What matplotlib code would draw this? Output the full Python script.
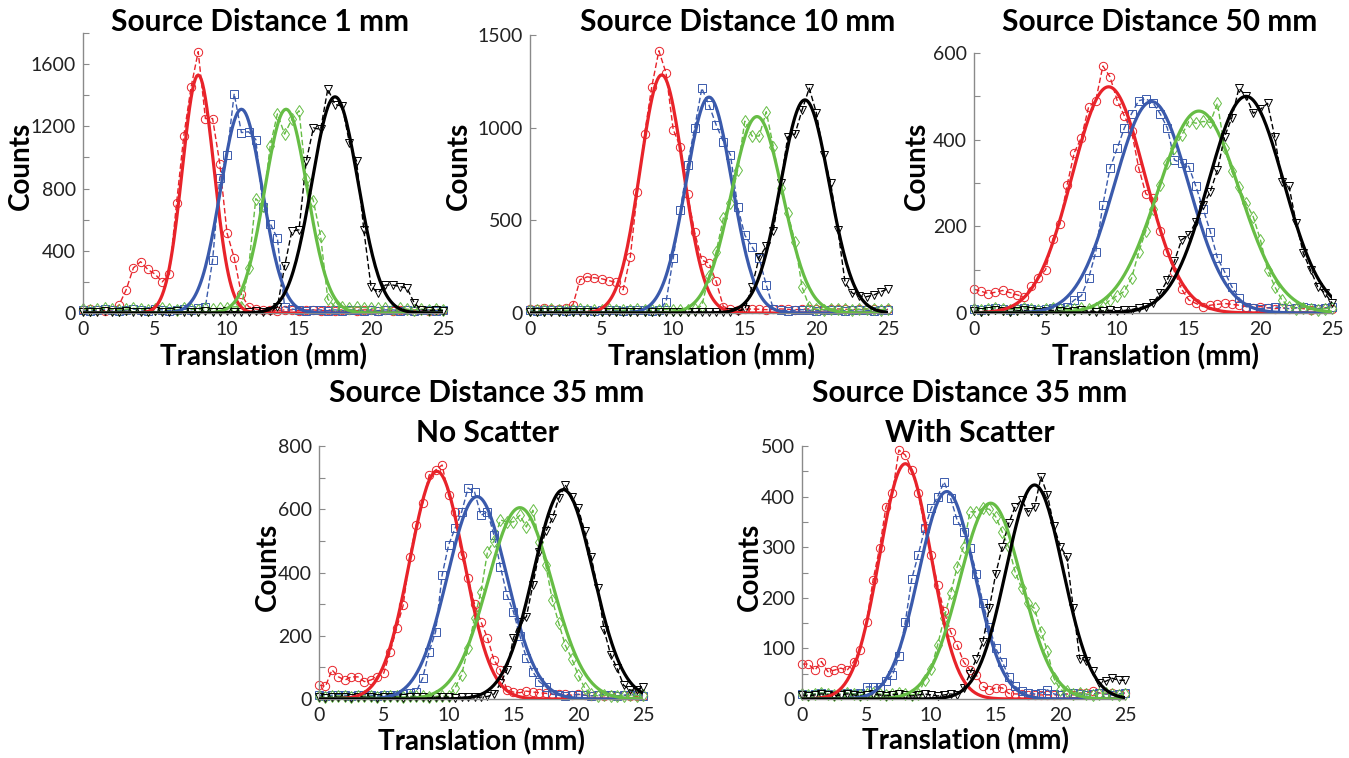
import numpy as np
import matplotlib.pyplot as plt

plt.rcParams['font.family'] = ['Lato', 'DejaVu Sans']

# translation grid of the measured points (mm)
translation = np.arange(0, 25.5, 0.5)

# Source distance 1 mm
p1_red = [20, 25, 20, 15, 20, 50, 150, 290, 330, 280, 250, 200, 250, 710, 1140, 1450, 1680, 1250, 1250, 960, 515, 355, 120, 40, 25, 20,
          20, 15, 20, 20, 15, 20, 20, 15, 20, 15, 20, 20, 15, 20, 20, 15, 20, 15, 20, 20, 15, 20, 15, 20, 20]
p1_blue = [20, 15, 20, 25, 20, 15, 20, 25, 20, 15, 25, 20, 15, 20, 25, 20,
           30, 40, 340, 870, 1015, 1410, 1160, 1165, 1115, 680, 575, 480, 40, 25,
           20, 15, 20, 20, 15, 20, 15, 20, 20, 15, 20, 15, 20, 20, 15, 20, 15, 20, 20, 15, 20]
p1_green = [25, 20, 25, 30, 25, 20, 25, 30, 25, 20, 25, 30, 25, 20, 30, 25, 20, 30, 25, 30, 35, 40,
            40, 290, 735, 690, 1075, 1280, 1150, 1245, 1300, 860, 720, 495, 90, 40,
            40, 35, 40, 35, 30, 35, 30, 25, 30, 25, 20, 25, 20, 25, 20]
p1_black = [8, 5, 8, 10, 5, 8, 10, 8, 5, 8, 10, 5, 8, 10, 8, 5, 8, 10, 8, 5, 10, 8, 5, 8, 10, 8, 10,
            40, 300, 525, 535, 975, 1190, 1180, 1440, 1340, 1330, 1095, 975, 535, 170, 130, 180, 180, 170, 160, 65,
            20, 15, 20, 15]

# Source distance 10 mm
p2_red = [20, 20, 25, 20, 20, 25, 45, 180, 195, 190, 185, 175, 165, 125, 300, 655, 965, 1220, 1415, 1295, 990, 895, 640, 435,
          285, 270, 170, 35,
          20, 18, 20, 22, 20, 18, 20, 22, 20, 18, 20, 22, 20, 18, 20, 22, 20, 18, 20, 22, 20, 18, 20]
p2_blue = [15, 12, 15, 18, 15, 12, 15, 18, 15, 12, 15, 18, 15, 12, 15, 18, 15, 12, 15,
           60, 295, 556, 800, 1000, 1213, 1122, 1015, 925, 853, 574, 420, 358, 295, 151, 20,
           15, 12, 15, 18, 15, 12, 15, 18, 15, 12, 15, 18, 15, 12, 15, 18]
p2_green = [18, 15, 18, 20, 18, 15, 18, 20, 18, 15, 18, 20, 18, 15, 18, 20, 18, 15, 18, 20, 18, 15, 18, 20,
            40, 200, 330, 512, 593, 772, 1035, 955, 955, 1086, 895, 675, 540, 385, 140, 34,
            20, 18, 20, 22, 20, 18, 20, 22, 20, 18, 20]
p2_black = [5, 3, 5, 8, 5, 3, 5, 8, 5, 3, 5, 8, 5, 3, 5, 8, 5, 3, 5, 8, 5, 3, 5, 8, 5, 3, 5, 8, 5,
            10, 20, 140, 300, 360, 445, 700, 950, 965, 1095, 1213, 1079, 853, 700, 450, 165, 108, 90, 88, 97, 115, 130]

# Source distance 50 mm
p3_red = [55, 50, 45, 48, 52, 47, 42, 37, 62, 80, 100, 170, 205, 295, 370, 405, 475, 490, 570, 545, 490, 455, 420, 335,
          275, 265, 190, 140, 95, 55, 30, 22, 15, 18, 20, 22, 20, 18, 15, 12, 15, 12, 10, 12, 10, 12, 10, 8, 10, 12, 10]
p3_blue = [10, 8, 10, 12, 10, 8, 10, 12, 10, 8, 10, 12, 12,
           15, 30, 40, 80, 140, 250, 335, 380, 427, 460, 490, 494, 485, 460, 427, 353, 346, 338, 292, 240, 188, 127,
           95, 61, 35, 15,
           12, 10, 12, 14, 12, 10, 12, 14, 12, 10, 12, 14]
p3_green = [10, 8, 10, 12, 10, 8, 10, 12, 10, 8, 10, 12, 10, 8, 10, 12, 10, 12,
            15, 30, 40, 50, 80, 140, 190, 240, 295, 346, 381, 410, 442, 438, 442, 440, 484, 380, 327, 290, 254, 222,
            169, 100, 61, 30, 15,
            10, 12, 10, 8, 10, 12]
p3_black = [5, 3, 5, 6, 5, 3, 5, 6, 5, 3, 5, 6, 5, 3, 5, 6, 5, 3, 5, 6, 5, 6,
            8, 12, 15, 23, 46, 76, 120, 169, 180, 211, 249, 280, 330, 407, 450, 519, 500, 461, 470, 484, 407, 303, 292,
            207, 138, 99, 61, 46, 23]

# Source distance 35 mm, no scatter
p4_red = [44, 40, 92, 70, 60, 70, 70, 55, 60, 70, 82, 150, 225, 297, 450, 550, 619, 708, 724, 740, 645, 592, 455, 383,
          300, 244, 193, 123, 92, 28,
          22, 20, 25, 22, 20, 18, 15, 15, 15, 12, 15, 12, 10, 12, 10, 12, 10, 12, 10, 8, 10]
p4_blue = [12, 10, 12, 14, 12, 10, 12, 14, 12, 10, 12, 14, 12,
           15, 19, 23, 66, 150, 213, 392, 487, 540, 590, 667, 655, 581, 592, 518, 418, 329, 276, 200, 130, 86, 55, 39, 15,
           12, 10, 12, 14, 12, 10, 12, 14, 12, 10, 12, 14, 12, 10]
p4_green = [8, 6, 8, 10, 8, 6, 8, 10, 8, 6, 8, 10, 8, 6, 8, 10, 8, 6, 8, 10, 8,
            35, 76, 161, 256, 339, 465, 500, 566, 560, 560, 581, 544, 597, 497, 423, 313, 240, 170, 128, 76, 35, 15,
            10, 12, 10, 8, 10, 12, 10, 12]
p4_black = [5, 3, 5, 6, 5, 3, 5, 6, 5, 3, 5, 6, 5, 3, 5, 6, 5, 3, 5, 6, 5, 3, 5, 6, 5, 6,
            8, 15, 50, 92, 192, 244, 260, 360, 465, 530, 571, 634, 677, 640, 603, 530, 450, 350, 218, 140, 97, 44,
            28, 28, 39]

# Source distance 35 mm, with scatter
p5_red = [69, 69, 57, 74, 54, 57, 61, 57, 74, 97, 153, 235, 298, 380, 407, 492, 482, 453, 407, 337, 285, 225, 173, 133,
          107, 74, 57, 47, 25, 18, 22, 22, 11,
          10, 10, 8, 8, 8, 8, 8, 8, 10, 8, 12, 12, 15, 12, 10, 12, 10, 12]
p5_blue = [10, 8, 10, 12, 10, 8, 10, 12, 10, 12,
           24, 24, 24, 35, 47, 84, 153, 238, 285, 337, 377, 400, 429, 397, 354, 330, 298, 248, 190, 143, 100, 74, 44,
           25, 15, 12, 10, 12, 18,
           10, 8, 10, 12, 10, 8, 10, 12, 10, 8, 10, 12]
p5_green = [10, 8, 10, 12, 10, 8, 10, 12, 10, 8, 10, 12, 10, 8, 10, 12, 10, 8, 10,
            37, 60, 107, 160, 209, 260, 301, 370, 370, 377, 375, 360, 330, 300, 251, 219, 190, 179, 133, 94, 41, 18, 15,
            10, 12, 10, 8, 10, 12, 10, 8, 10]
p5_black = [8, 6, 8, 10, 8, 6, 8, 10, 8, 6, 8, 10, 8, 6, 8, 10, 8, 6, 8, 10, 8, 6, 8, 10, 8,
            21, 50, 80, 113, 180, 248, 300, 347, 380, 393, 370, 380, 439, 403, 341, 301, 281, 179, 80, 75, 55, 31,
            35, 41, 37, 37]

# === Gaussian fit parameters (red, blue, green, black) ===
p1_amp, p1_center, p1_sigma = [1530, 1310, 1310, 1390], [8.0, 11.0, 14.1, 17.5], [1.1, 1.45, 1.48, 1.6]
p2_amp, p2_center, p2_sigma = [1285, 1165, 1060, 1150], [9.2, 12.5, 15.85, 19.2], [1.5, 1.6, 1.8, 1.7]
p3_amp, p3_center, p3_sigma = [522, 488, 466, 500], [9.4, 12.4, 15.7, 19.0], [2.55, 2.6, 2.85, 2.62]
p4_amp, p4_center, p4_sigma = [720, 640, 605, 662], [9.1, 12.2, 15.5, 18.85], [2.1, 2.3, 2.5, 2.3]
p5_amp, p5_center, p5_sigma = [465, 410, 387, 423], [8.0, 11.2, 14.6, 18.0], [2.0, 2.17, 2.4, 2.2]

colors = ['#e8232a', '#3a5aac', '#66bd45', '#000000']
markers = ['o', 's', 'd', 'v']

W, H = 1349, 758
fig = plt.figure(figsize=(W / 100, H / 100), dpi=100)


def px_axes(left, top, right, bottom):
    return fig.add_axes([left / W, 1 - bottom / H, (right - left) / W, (bottom - top) / H])


def draw_panel(ax, measured, amps, centers, sigmas, ymax, major, minor):
    for y, c, m in zip(measured, colors, markers):
        ax.plot(translation, y, linestyle=(0, (4, 2)), lw=1.0, color=c, marker=m, ms=6,
                mfc='none', mew=0.7, clip_on=False, zorder=2)
    xf = np.linspace(0, 25, 251)
    for a, mu, s, c in zip(amps, centers, sigmas, colors):
        ax.plot(xf, a * np.exp(-0.5 * ((xf - mu) / s) ** 2), color=c, lw=2.3, zorder=3)
    ax.set_xlim(0, 25)
    ax.set_ylim(0, ymax)
    ax.set_xticks([0, 5, 10, 15, 20, 25])
    ax.set_yticks(np.arange(0, ymax + 1, major))
    if minor:
        ax.set_yticks(np.arange(0, ymax + 1, minor), minor=True)
    for s in ['top', 'right']:
        ax.spines[s].set_visible(False)
    for s in ['left', 'bottom']:
        ax.spines[s].set_color('#8a8a8a')
        ax.spines[s].set_linewidth(1.0)
    ax.tick_params(which='both', direction='in', color='#8a8a8a', length=4, width=0.8,
                   labelsize=14, labelcolor='#222222', pad=5)
    ax.tick_params(axis='x', length=0, pad=6)


panels = [
    ((83, 33, 443, 313), [p1_red, p1_blue, p1_green, p1_black], p1_amp, p1_center, p1_sigma, 1800, 400, 200),
    ((530, 35, 888, 313), [p2_red, p2_blue, p2_green, p2_black], p2_amp, p2_center, p2_sigma, 1500, 500, None),
    ((974, 53, 1332, 313), [p3_red, p3_blue, p3_green, p3_black], p3_amp, p3_center, p3_sigma, 600, 200, 100),
    ((319, 446, 643, 699), [p4_red, p4_blue, p4_green, p4_black], p4_amp, p4_center, p4_sigma, 800, 200, 100),
    ((802, 446, 1125, 699), [p5_red, p5_blue, p5_green, p5_black], p5_amp, p5_center, p5_sigma, 500, 100, 50),
]
for box, measured, amps, centers, sigmas, ymax, major, minor in panels:
    ax = px_axes(*box)
    draw_panel(ax, measured, amps, centers, sigmas, ymax, major, minor)


def ftext(x, y, s, size, **kw):
    fig.text(x / W, 1 - y / H, s, fontsize=size, fontweight='bold', ha='center', va='center', **kw)


titles = [(260, 22, 'Source Distance 1 mm'), (738, 22, 'Source Distance 10 mm'),
          (1160, 22, 'Source Distance 50 mm'),
          (487, 393, 'Source Distance 35 mm'), (487, 433, 'No Scatter'),
          (970, 393, 'Source Distance 35 mm'), (970, 433, 'With Scatter')]
for x, y, s in titles:
    ftext(x, y, s, 21.5)

for x, y in [(21, 166), (459, 166), (917, 166), (268, 567), (750, 567)]:
    ftext(x, y, 'Counts', 20, rotation=90)
for x, y in [(264, 357), (712, 357), (1156, 357), (482, 742), (966, 741)]:
    ftext(x, y, 'Translation (mm)', 20)

plt.savefig('out.png', dpi=100)
